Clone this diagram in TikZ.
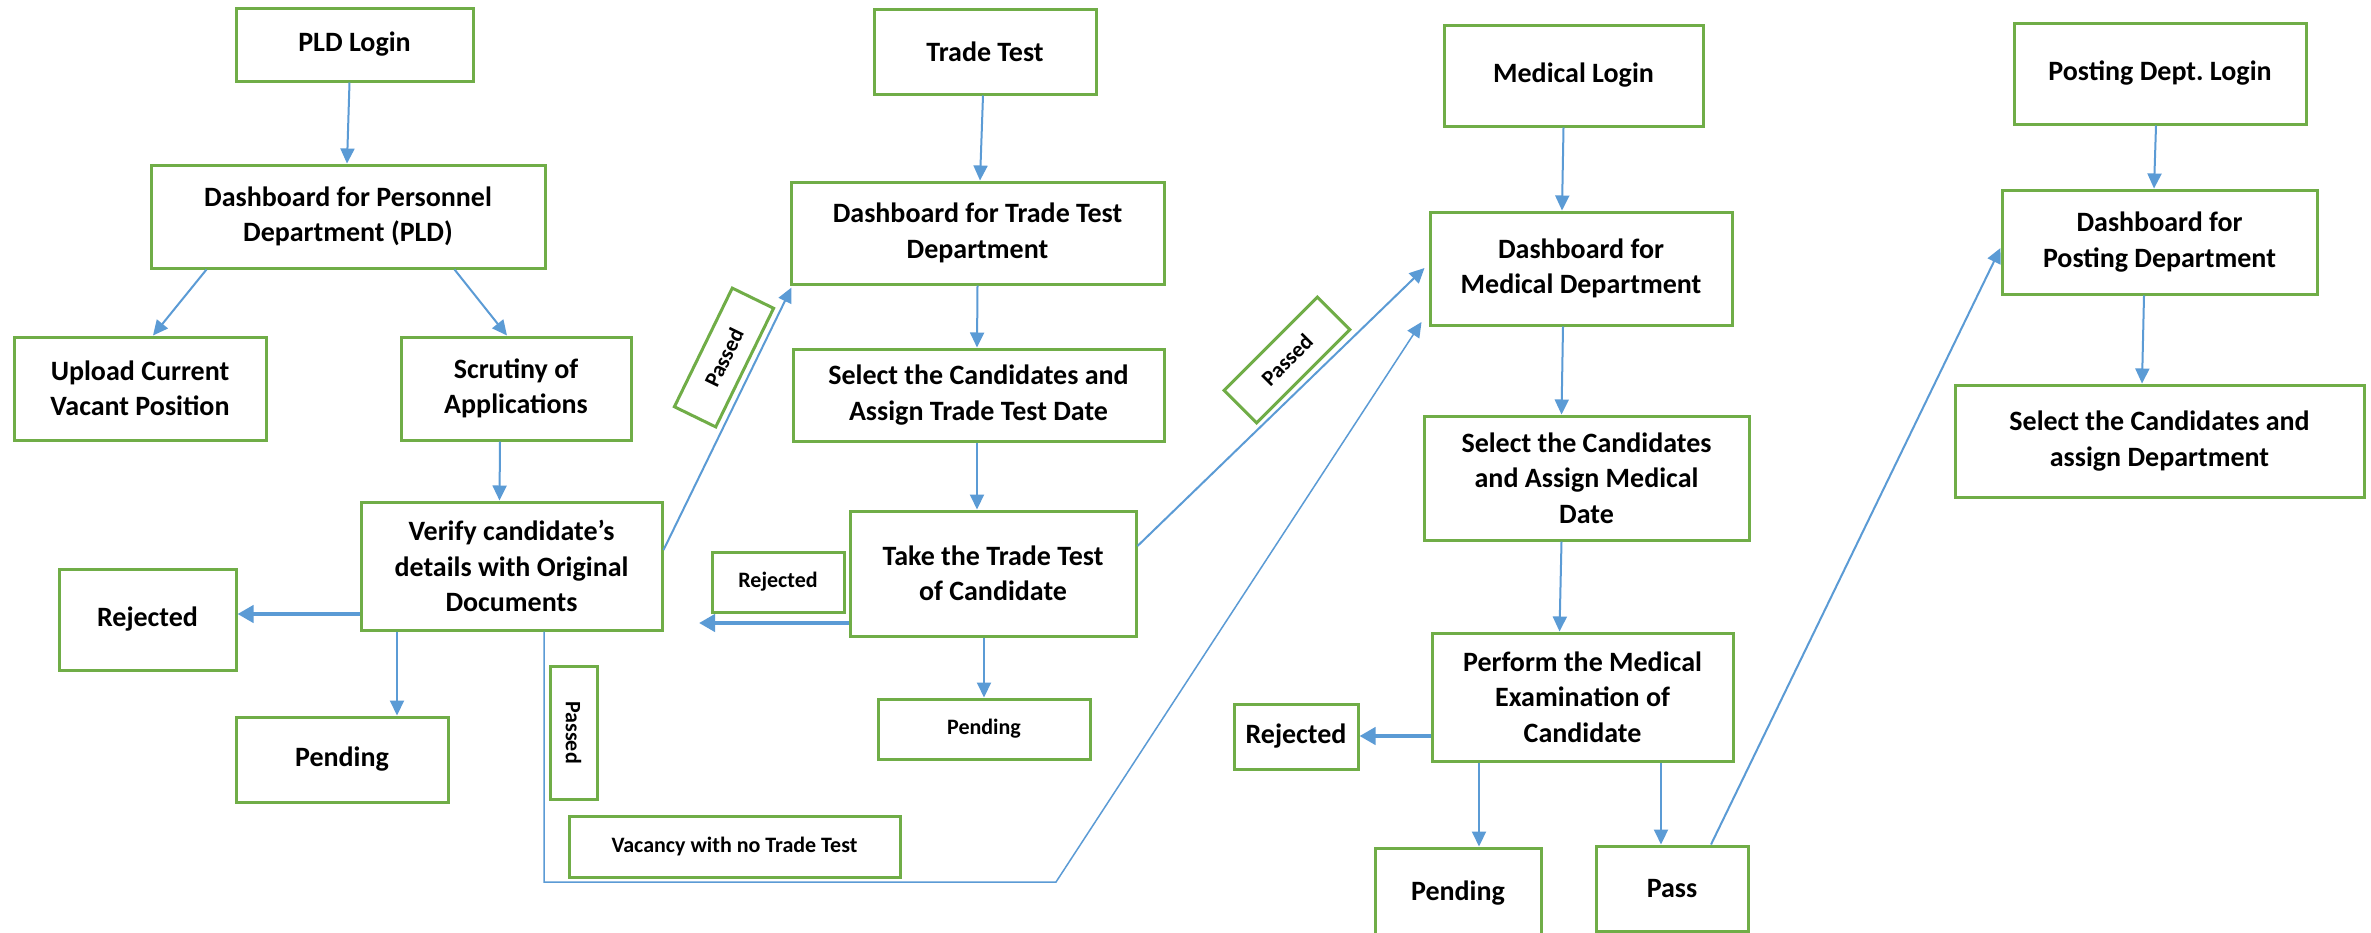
\documentclass[tikz,border=0pt]{standalone}
\usepackage{fontspec}
\setmainfont{Carlito}
\usetikzlibrary{arrows.meta}
\definecolor{boxgreen}{RGB}{112,173,71}
\definecolor{arrblue}{RGB}{91,155,213}
\newcommand\bigf{\fontsize{28}{35.5}\selectfont\bfseries}
\newcommand\smf{\fontsize{22}{28}\selectfont\bfseries}
\frenchspacing
\tikzset{
  box/.style={draw=boxgreen, line width=3pt, align=center, inner sep=0pt, font=\bigf, fill=white},
  sbox/.style={box, font=\smf},
  arr/.style={draw=arrblue, line width=2pt, -{Triangle[length=15pt,width=14pt]}},
  tarr/.style={draw=arrblue, line width=4pt, -{Triangle[length=16pt,width=17pt]}},
  thinline/.style={draw=arrblue, line width=1.5pt, -{Triangle[length=15pt,width=14pt]}}
}
\begin{document}
\begin{tikzpicture}[x=1pt,y=-1pt]
\useasboundingbox (0,0) rectangle (2371,932);
\clip (0,0) rectangle (2371,932);
\fill[white] (0,0) rectangle (2371,932);
% column 1
\node[box, minimum width=237pt, minimum height=73pt] (pldlogin) at (354.5,44.5) {PLD Login};
\node[box, minimum width=394pt, minimum height=103pt] (pld) at (348,216.5) {Dashboard for Personnel\\Department (PLD)};
\node[box, minimum width=252pt, minimum height=103pt] (upload) at (140,388.5) {Upload Current\\Vacant Position};
\node[box, minimum width=230pt, minimum height=103pt] (scrut) at (516,388.5) {Scrutiny of\\Applications};
\node[box, minimum width=301pt, minimum height=128pt] (verify) at (511.5,566) {Verify candidate’s\\details with Original\\Documents};
\node[box, minimum width=177pt, minimum height=101pt] (rej1) at (147.5,619.5) {Rejected};
\node[box, minimum width=212pt, minimum height=85pt] (pend1) at (342,759.5) {Pending};
\node[sbox, minimum width=133pt, minimum height=47pt, rotate=-90] (passv) at (573.5,732.5) {Passed};
\node[sbox, minimum width=331pt, minimum height=61pt] (vacancy) at (734.5,846.5) {Vacancy with no Trade Test};
\node[sbox, minimum width=132pt, minimum height=46pt, rotate=64] (passa) at (724,357.5) {Passed};
% column 2
\node[box, minimum width=222pt, minimum height=85pt] (tradetest) at (985,51.5) {Trade Test};
\node[box, minimum width=373pt, minimum height=102pt] (dtrade) at (977.5,233) {Dashboard for Trade Test\\Department};
\node[box, minimum width=371pt, minimum height=92pt] (strade) at (978.5,395) {Select the Candidates and\\Assign Trade Test Date};
\node[box, minimum width=286pt, minimum height=125pt] (take) at (993,573.5) {Take the Trade Test\\of Candidate};
\node[sbox, minimum width=132pt, minimum height=60pt] (rej2) at (778,582) {Rejected};
\node[sbox, minimum width=212pt, minimum height=60pt] (pend2) at (984,729) {Pending};
\node[sbox, minimum width=132pt, minimum height=46pt, rotate=45] (passb) at (1287,360) {Passed};
% column 3
\node[box, minimum width=259pt, minimum height=101pt] (medlogin) at (1573.5,75.5) {Medical Login};
\node[box, minimum width=302pt, minimum height=113pt] (dmed) at (1581,268.5) {Dashboard for\\Medical Department};
\node[box, minimum width=325pt, minimum height=124pt] (smed) at (1586.5,478) {Select the Candidates\\and Assign Medical\\Date};
\node[box, minimum width=301pt, minimum height=128pt] (perform) at (1582.5,697) {Perform the Medical\\Examination of\\Candidate};
\node[box, minimum width=124pt, minimum height=65pt] (rej3) at (1296,736.5) {Rejected};
\node[box, minimum width=166pt, minimum height=90pt] (pend3) at (1458,893) {Pending};
\node[box, minimum width=152pt, minimum height=85pt] (pass) at (1672,888.5) {Pass};
% column 4
\node[box, minimum width=292pt, minimum height=101pt] (postlogin) at (2160,73.5) {Posting Dept. Login};
\node[box, minimum width=315pt, minimum height=104pt] (dpost) at (2159.5,242) {Dashboard for\\Posting Department};
\node[box, minimum width=409pt, minimum height=112pt] (spost) at (2159.5,441) {Select the Candidates and\\assign Department};
% free points
\coordinate (v2) at (1056,882);
\coordinate (rtip) at (699,623);
% connectors column 1
\draw[arr] ([xshift=-5pt]pldlogin.south) -- ([xshift=-1pt]pld.north);
\draw[arr] ([xshift=57pt]pld.south west) -- ([xshift=13pt]upload.north);
\draw[arr] ([xshift=-92pt]pld.south east) -- ([xshift=-9pt]scrut.north);
\draw[arr] ([xshift=-16pt]scrut.south) -- ([xshift=-12pt]verify.north);
\draw[tarr] ([yshift=-48pt]verify.west) -- ([yshift=-48pt]verify.west -| rej1.east);
\draw[arr] ([xshift=-114.5pt]verify.south) -- ([xshift=-114.5pt]verify.south |- pend1.north);
\draw[arr] ([yshift=16pt]verify.east) -- ([xshift=2pt,yshift=-2pt]dtrade.south west);
\draw[thinline] ([xshift=32.5pt]verify.south) |- (v2) -- ([xshift=-7pt,yshift=-53.5pt]dmed.west);
% column 2
\draw[arr] ([xshift=-2pt]tradetest.south) -- ([xshift=2.5pt]dtrade.north);
\draw[arr] (dtrade.south) -- ([xshift=-1.5pt]strade.north);
\draw[arr] ([xshift=-1.5pt]strade.south) -- ([xshift=-1.5pt]strade.south |- take.north);
\draw[tarr] ([yshift=-49.5pt]take.west) -- (rtip);
\draw[arr] ([xshift=-9pt]take.south) -- (pend2.north);
\draw[arr] ([yshift=27.5pt]take.east) -- ([xshift=-4pt,yshift=0.5pt]dmed.west);
% column 3
\draw[arr] ([xshift=-10pt]medlogin.south) -- ([xshift=-19pt]dmed.north);
\draw[arr] ([xshift=-18pt]dmed.south) -- ([xshift=-25pt]smed.north);
\draw[arr] ([xshift=-25pt]smed.south) -- ([xshift=-23pt]perform.north);
\draw[tarr] ([yshift=-39pt]perform.west) -- ([yshift=-39pt]perform.west -| rej3.east);
\draw[arr] ([xshift=-103.5pt]perform.south) -- ([xshift=21pt]pend3.north);
\draw[arr] ([xshift=78.5pt]perform.south) -- ([xshift=-11pt]pass.north);
\draw[arr] ([xshift=39pt]pass.north) -- ([yshift=-6pt]dpost.west);
% column 4
\draw[arr] ([xshift=-4pt]postlogin.south) -- ([xshift=-5.5pt]dpost.north);
\draw[arr] ([xshift=-15.5pt]dpost.south) -- ([xshift=-17.5pt]spost.north);
\end{tikzpicture}
\end{document}
